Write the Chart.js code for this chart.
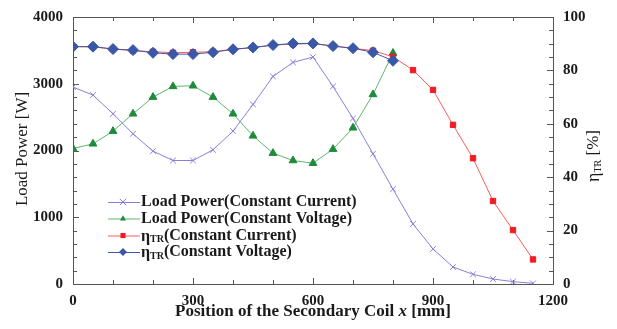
<!DOCTYPE html>
<html>
<head>
<meta charset="utf-8">
<script src="https://cdn.jsdelivr.net/npm/chart.js@4/dist/chart.umd.min.js"></script>
<style>
html,body{margin:0;padding:0;background:#fff;}
#wrap{position:relative;width:617px;height:329px;}
</style>
</head>
<body>
<div id="wrap"><canvas id="c" width="617" height="329"></canvas></div>
<script>
// ---- data ----
const positions = [0,50,100,150,200,250,300,350,400,450,500,550,600,650,700,750,800,850,900,950,1000,1050,1100,1150];
const powerCC = [2950,2830,2550,2250,1990,1850,1850,2010,2290,2690,3110,3320,3400,2960,2480,1950,1420,900,525,255,145,75,35,10];
const powerCV = [2030,2100,2290,2550,2800,2960,2970,2800,2550,2220,1960,1850,1810,2020,2340,2840,3460];
const effCC = [88.9,88.8,88.0,87.4,87.0,86.6,86.8,87.0,87.9,88.5,89.5,89.8,90.1,89.1,88.3,87.4,85.1,80.1,72.7,59.6,47.1,31.1,20.2,9.2];
const effCV = [88.9,88.9,88.0,87.6,86.6,86.1,86.1,86.8,87.9,88.6,89.5,90.1,90.1,89.1,88.3,86.8,83.6];
const xTicks = [0,300,600,900,1200];
const leftTicks = [0,1000,2000,3000,4000];
const rightTicks = [0,20,40,60,80,100];
const legendLabels = [
  {main:'Load Power(Constant Current)'},
  {main:'Load Power(Constant Voltage)'},
  {eta:true, main:'(Constant Current)'},
  {eta:true, main:'(Constant Voltage)'}
];

const pts = (arr) => arr.map((v,i)=>({x:positions[i], y:v}));
const SERIF = '"Liberation Serif","Times New Roman",serif';

const datasets = [
  {data:pts(powerCC), yAxisID:'y', order:3, borderColor:'#8a7fd6', backgroundColor:'#8a7fd6', pointStyle:'crossRot', pointRadius:4, pointBorderWidth:1, borderWidth:1, markerColor:'#8a7fd6'},
  {data:pts(powerCV), yAxisID:'y', order:2, borderColor:'#5cb86e', backgroundColor:'#1f8a3a', pointBorderColor:'#1f8a3a', pointStyle:'triangle', pointRadius:4.5, pointBorderWidth:1, borderWidth:1, markerColor:'#1f8a3a'},
  {data:pts(effCC), yAxisID:'y1', order:1, borderColor:'#ff5a5a', backgroundColor:'#ee1c24', pointBorderColor:'#ee1c24', pointStyle:'rect', pointRadius:3.8, pointBorderWidth:1, borderWidth:1, markerColor:'#ee1c24'},
  {data:pts(effCV), yAxisID:'y1', order:0, borderColor:'#3a58a8', backgroundColor:'#3a58a8', pointBorderColor:'#3a58a8', pointStyle:'rectRot', pointRadius:5.5, pointBorderWidth:1, borderWidth:1, markerColor:'#3a58a8'}
];

const AREA = {left:73, right:553, top:17, bottom:284};

function drawMarker(ctx, style, x, y, r, color){
  ctx.save();
  ctx.fillStyle = color; ctx.strokeStyle = color; ctx.lineWidth = 1;
  ctx.beginPath();
  if(style==='crossRot'){
    ctx.moveTo(x-r,y-r);ctx.lineTo(x+r,y+r);ctx.moveTo(x+r,y-r);ctx.lineTo(x-r,y+r);ctx.stroke();
  } else if(style==='triangle'){
    ctx.moveTo(x,y-r);ctx.lineTo(x+r*0.95,y+r*0.65);ctx.lineTo(x-r*0.95,y+r*0.65);ctx.closePath();ctx.fill();
  } else if(style==='rect'){
    ctx.rect(x-r*0.8,y-r*0.8,r*1.6,r*1.6);ctx.fill();
  } else if(style==='rectRot'){
    ctx.moveTo(x,y-r);ctx.lineTo(x+r,y);ctx.lineTo(x,y+r);ctx.lineTo(x-r,y);ctx.closePath();ctx.fill();
  }
  ctx.restore();
}

const decor = {
  id:'decor',
  beforeDatasetsDraw(chart){
    const ctx = chart.ctx, xs = chart.scales.x, yl = chart.scales.y, yr = chart.scales.y1;
    const a = chart.chartArea;
    ctx.save();
    ctx.strokeStyle = '#555'; ctx.lineWidth = 1;
    ctx.strokeRect(a.left+0.5, a.top+0.5, a.right-a.left, a.bottom-a.top);
    ctx.beginPath();
    for(let v=0; v<=1200; v+=100){
      const p = Math.round(xs.getPixelForValue(v))+0.5;
      const L = (v%300===0)?6:4;
      ctx.moveTo(p,a.bottom);ctx.lineTo(p,a.bottom-L);
      ctx.moveTo(p,a.top);ctx.lineTo(p,a.top+L);
    }
    for(let v=0; v<=4000; v+=200){
      const p = Math.round(yl.getPixelForValue(v))+0.5;
      const L = (v%1000===0)?6:4;
      ctx.moveTo(a.left,p);ctx.lineTo(a.left+L,p);
    }
    for(let v=0; v<=100; v+=5){
      const p = Math.round(yr.getPixelForValue(v))+0.5;
      const L = (v%20===0)?6:4;
      ctx.moveTo(a.right,p);ctx.lineTo(a.right-L,p);
    }
    ctx.stroke();
    ctx.restore();
  },
  afterDraw(chart){
    const ctx = chart.ctx;
    ctx.save();
    ctx.fillStyle = '#1a1a1a';
    // legend
    const rows = [202,218.5,235.5,252];
    legendLabels.forEach((lab,i)=>{
      const ds = chart.data.datasets[i];
      const y = rows[i];
      ctx.strokeStyle = ds.borderColor; ctx.lineWidth = 1;
      ctx.beginPath(); ctx.moveTo(108,y+0.5); ctx.lineTo(140,y+0.5); ctx.stroke();
      drawMarker(ctx, ds.pointStyle, 123, y, ds.pointStyle==='rectRot'?4:3.2, ds.markerColor);
      ctx.fillStyle = '#1a1a1a';
      ctx.textBaseline = 'middle'; ctx.textAlign='left';
      let x = 141;
      if(lab.eta){
        ctx.font = 'bold 16px '+SERIF;
        ctx.fillText('η', x, y+1); x += ctx.measureText('η').width;
        ctx.font = 'bold 10px '+SERIF;
        ctx.fillText('TR', x, y+4); x += ctx.measureText('TR').width;
      }
      ctx.font = 'bold 16px '+SERIF;
      ctx.fillText(lab.main, x, y);
    });
    // left title
    ctx.save();
    ctx.translate(23,149); ctx.rotate(-Math.PI/2);
    ctx.font = '17px '+SERIF; ctx.textAlign='center'; ctx.textBaseline='middle';
    ctx.fillText('Load Power [W]',0,0);
    ctx.restore();
    // right title
    ctx.save();
    ctx.translate(594,156); ctx.rotate(-Math.PI/2);
    ctx.textBaseline='middle'; ctx.textAlign='left';
    ctx.font = '18px '+SERIF;
    const w1 = ctx.measureText('η').width;
    ctx.font = '10px '+SERIF; const w2 = ctx.measureText('TR').width;
    ctx.font = '17px '+SERIF; const w3 = ctx.measureText(' [%]').width;
    let x0 = -(w1+w2+w3)/2;
    ctx.font = '18px '+SERIF; ctx.fillText('η',x0,0); x0+=w1;
    ctx.font = '10px '+SERIF; ctx.fillText('TR',x0,4); x0+=w2;
    ctx.font = '17px '+SERIF; ctx.fillText(' [%]',x0,0);
    ctx.restore();
    // bottom title
    ctx.textBaseline='middle'; ctx.textAlign='left';
    const parts = [['bold 17px '+SERIF,'Position of the Secondary Coil '],['italic bold 17px '+SERIF,'x'],['bold 17px '+SERIF,' [mm]']];
    let tw = 0; parts.forEach(p=>{ctx.font=p[0]; tw+=ctx.measureText(p[1]).width;});
    let bx = 313 - tw/2;
    parts.forEach(p=>{ctx.font=p[0]; ctx.fillText(p[1],bx,312); bx+=ctx.measureText(p[1]).width;});
    ctx.restore();
  }
};

const tickFont = {family:SERIF, size:15, weight:'bold'};
const plain = (v) => String(v);
new Chart(document.getElementById('c'), {
  type:'line',
  data:{datasets},
  options:{
    responsive:false, animation:false,
    layout:{padding:{top:AREA.top, left:0, right:0, bottom:0}},
    plugins:{legend:{display:false}, tooltip:{enabled:false}},
    elements:{line:{tension:0}},
    scales:{
      x:{type:'linear', min:0, max:1200, position:'bottom',
        afterBuildTicks(s){ s.ticks = xTicks.map(v=>({value:v})); },
        afterFit(s){ s.height = 329-AREA.bottom; },
        grid:{display:false}, border:{display:false},
        ticks:{font:tickFont, color:'#1a1a1a', padding:0, maxRotation:0, autoSkip:false, callback:plain}},
      y:{type:'linear', min:0, max:4000, position:'left',
        afterBuildTicks(s){ s.ticks = leftTicks.map(v=>({value:v})); },
        afterFit(s){ s.width = AREA.left; },
        grid:{display:false}, border:{display:false},
        ticks:{font:tickFont, color:'#1a1a1a', padding:2, callback:plain}},
      y1:{type:'linear', min:0, max:100, position:'right',
        afterBuildTicks(s){ s.ticks = rightTicks.map(v=>({value:v})); },
        afterFit(s){ s.width = 617-AREA.right; },
        grid:{display:false}, border:{display:false},
        ticks:{font:tickFont, color:'#1a1a1a', padding:2, callback:plain}}
    }
  },
  plugins:[decor]
});
</script>
</body>
</html>
